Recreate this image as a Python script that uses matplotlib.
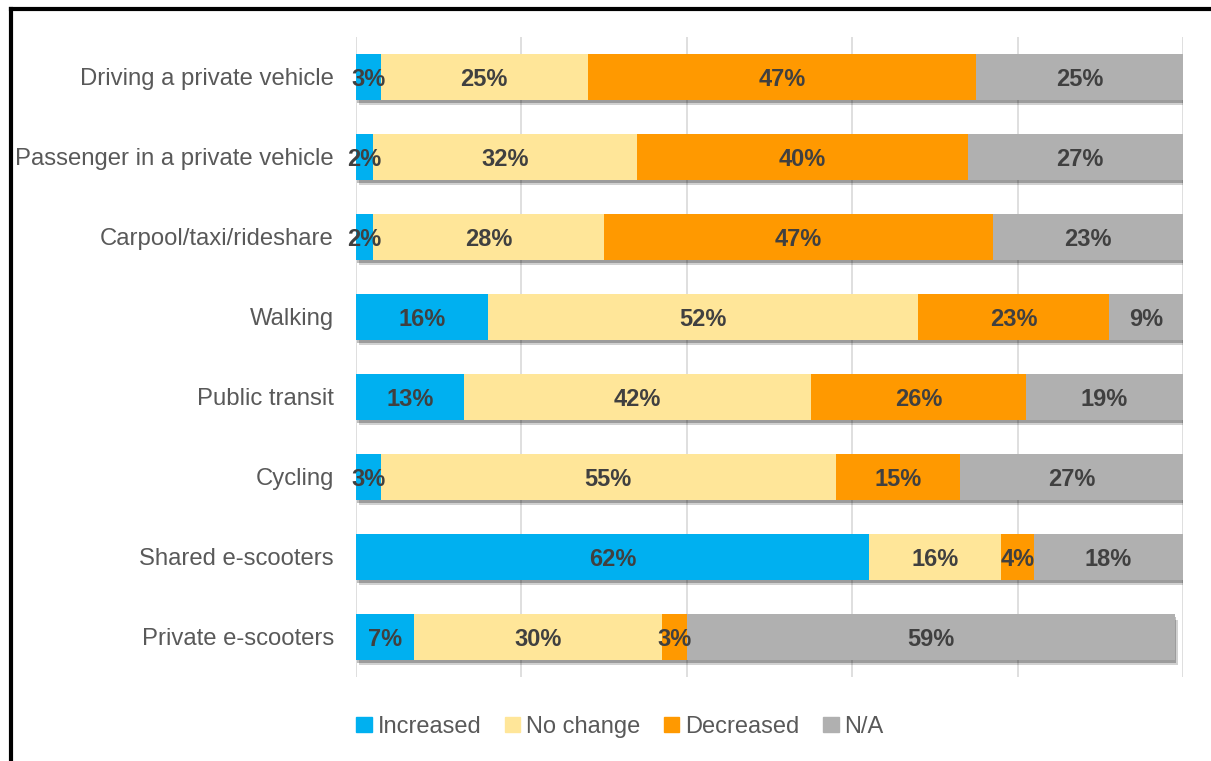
import numpy as np
import matplotlib.pyplot as plt
import matplotlib.patheffects as pe
from matplotlib.patches import Patch

plt.rcParams['font.family'] = ['Liberation Sans', 'DejaVu Sans']

# Change in use of each travel mode (share of respondents, %)
modes = ['Driving a private vehicle', 'Passenger in a private vehicle',
         'Carpool/taxi/rideshare', 'Walking', 'Public transit', 'Cycling',
         'Shared e-scooters', 'Private e-scooters']
increased = [3, 2, 2, 16, 13, 3, 62, 7]
no_change = [25, 32, 28, 52, 42, 55, 16, 30]
decreased = [47, 40, 47, 23, 26, 15, 4, 3]
not_applicable = [25, 27, 23, 9, 19, 27, 18, 59]

series = [('Increased', increased, '#00B0F0'),
          ('No change', no_change, '#FFE699'),
          ('Decreased', decreased, '#FF9900'),
          ('N/A', not_applicable, '#B0B0B0')]

fig = plt.figure(figsize=(12.11, 7.61), dpi=100)
ax = fig.add_axes([0.294, 0.1104, 0.6829, 0.841])

y = np.arange(len(modes))
left = np.zeros(len(modes))
# soft drop shadow under each segment
shadow = [pe.SimplePatchShadow(offset=(2, -4), shadow_rgbFace='k', alpha=0.18),
          pe.SimplePatchShadow(offset=(1, -2), shadow_rgbFace='k', alpha=0.25),
          pe.Normal()]

for name, vals, color in series:
    vals = np.array(vals, dtype=float)
    bars = ax.barh(y, vals, left=left, height=0.57, color=color, label=name, zorder=3)
    for b in bars:
        b.set_path_effects(shadow)
    for yi, l, v in zip(y, left, vals):
        ax.text(l + v / 2, yi, f'{v:.0f}%', ha='center', va='center_baseline',
                fontsize=17, fontweight='bold', color='#404040', zorder=4)
    left += vals

ax.set_xlim(0, 100)
ax.set_ylim(len(modes) - 0.5, -0.5)
ax.set_xticks(np.arange(0, 101, 20))
ax.set_xticklabels([])
ax.set_yticks(y)
ax.set_yticklabels(modes, fontsize=17.2, color='#595959')
ax.tick_params(axis='both', length=0, pad=16)
ax.grid(axis='x', color='#D9D9D9', linewidth=1.2, zorder=0)
for s in ax.spines.values():
    s.set_visible(False)

handles = [Patch(color=c, label=n) for n, _, c in series]
fig.legend(handles=handles, loc='center', bbox_to_anchor=(0.512, 0.045), ncol=4,
           frameon=False, fontsize=17, labelcolor='#595959',
           handlelength=0.65, handleheight=0.65, handletextpad=0.25, columnspacing=1.0)

# frame lines along the top and left edge
fig.add_artist(plt.Line2D([0.0087, 0.0087], [0, 0.988], color='black', linewidth=3))
fig.add_artist(plt.Line2D([0.0087, 1.0], [0.988, 0.988], color='black', linewidth=3))

fig.savefig('out.png', dpi=100)
